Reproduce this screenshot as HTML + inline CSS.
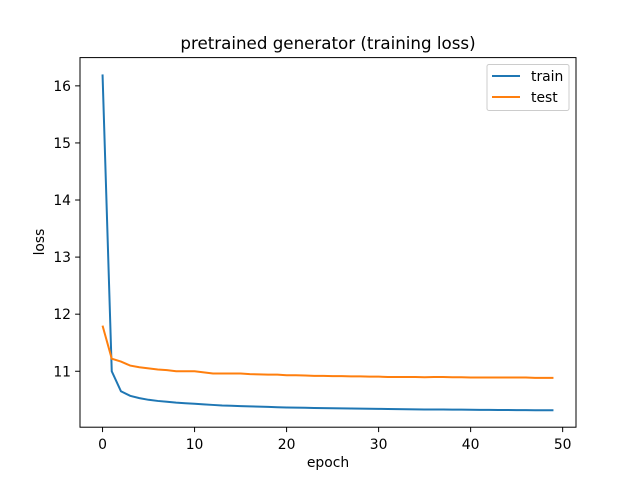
<!DOCTYPE html>
<html><head><meta charset="utf-8"><style>
body{margin:0;background:#fff;}
svg{font-family:"DejaVu Sans","Liberation Sans",sans-serif;}
</style></head><body>
<svg id="chart" width="640" height="480" xmlns="http://www.w3.org/2000/svg"></svg>
<script>
const epochs = Array.from({length:50},(_,i)=>i);
const trainLoss = [16.2,11.0,10.65,10.57,10.53,10.5,10.48,10.465,10.45,10.44,10.43,10.42,10.41,10.4,10.395,10.39,10.385,10.38,10.375,10.37,10.366,10.363,10.36,10.357,10.354,10.351,10.349,10.347,10.345,10.343,10.341,10.339,10.337,10.335,10.333,10.331,10.33,10.329,10.328,10.327,10.325,10.324,10.323,10.322,10.321,10.32,10.319,10.318,10.317,10.316];
const testLoss = [11.8,11.22,11.17,11.1,11.07,11.05,11.03,11.02,11.0,11.0,11.0,10.98,10.96,10.96,10.96,10.96,10.95,10.945,10.94,10.94,10.93,10.93,10.925,10.92,10.92,10.915,10.915,10.91,10.91,10.905,10.905,10.9,10.9,10.9,10.9,10.895,10.9,10.9,10.895,10.895,10.89,10.89,10.89,10.89,10.89,10.89,10.89,10.885,10.885,10.885];
const xTicks = [0,10,20,30,40,50];
const yTicks = [11,12,13,14,15,16];
const L=80,R=576,T=57.6,B=427.2;
const xmin=-2.45,xmax=51.45,ymin=10.02,ymax=16.495;
const sx=v=>L+(v-xmin)/(xmax-xmin)*(R-L);
const sy=v=>B-(v-ymin)/(ymax-ymin)*(B-T);
const svg=document.getElementById('chart');
const NS='http://www.w3.org/2000/svg';
function mk(tag,attrs,parent){const e=document.createElementNS(NS,tag);for(const k in attrs)e.setAttribute(k,attrs[k]);(parent||svg).appendChild(e);return e;}
function line(data,color,name){
  const p=mk('polyline',{points:data.map((v,i)=>sx(epochs[i])+','+sy(v)).join(' '),fill:'none',stroke:color,'stroke-width':2});
  
  
}
line(trainLoss,'#1f77b4','train-line');
line(testLoss,'#ff7f0e','test-line');
const frame=mk('rect',{x:L,y:T,width:R-L,height:B-T,fill:'none',stroke:'#000','stroke-width':1});


xTicks.forEach(t=>{const x=sx(t);
  mk('line',{x1:x,x2:x,y1:B,y2:B+4.9,stroke:'#000','stroke-width':1});
  const tx=mk('text',{x:x,y:B+22,'font-size':13.9,'text-anchor':'middle'});tx.textContent=t;
  
  
});
yTicks.forEach(t=>{const y=sy(t);
  mk('line',{x1:L-4.9,x2:L,y1:y,y2:y,stroke:'#000','stroke-width':1});
  const tx=mk('text',{x:L-9,y:y+5,'font-size':13.9,'text-anchor':'end'});tx.textContent=t;
  
  
});
</script>
<svg style="position:absolute;left:0;top:0" width="640" height="480">
<text x="328" y="49" font-size="16.7" text-anchor="middle" font-family="DejaVu Sans,Liberation Sans,sans-serif">pretrained generator (training loss)</text>
<text x="328" y="467" font-size="13.9" text-anchor="middle" font-family="DejaVu Sans,Liberation Sans,sans-serif">epoch</text>
<text x="0" y="0" font-size="13.9" text-anchor="middle" transform="translate(44,242) rotate(-90)" font-family="DejaVu Sans,Liberation Sans,sans-serif">loss</text>
<g>
<rect x="487" y="64.5" width="82" height="46" rx="2" fill="#fff" fill-opacity="0.8" stroke="#ccc" stroke-width="1"/>
<line x1="492" x2="520" y1="76" y2="76" stroke="#1f77b4" stroke-width="2"/>
<text x="531" y="81" font-size="13.9" font-family="DejaVu Sans,Liberation Sans,sans-serif">train</text>
<line x1="492" x2="520" y1="97" y2="97" stroke="#ff7f0e" stroke-width="2"/>
<text x="531" y="102" font-size="13.9" font-family="DejaVu Sans,Liberation Sans,sans-serif">test</text>
</g>
</svg>
</body></html>
